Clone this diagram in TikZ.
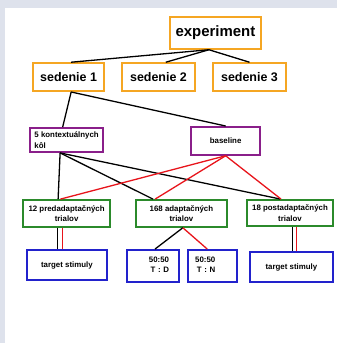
\documentclass[tikz,border=0pt]{standalone}
\usepackage{fontspec}
\setmainfont{Liberation Sans}
\usetikzlibrary{positioning,calc}
\definecolor{expOrange}{HTML}{F5A623}
\definecolor{expPurple}{HTML}{8A1F8A}
\definecolor{expGreen}{HTML}{2B8A2B}
\definecolor{expBlue}{HTML}{2222CC}
\definecolor{expRed}{HTML}{E8141B}
\definecolor{pageGrey}{HTML}{DEE2EC}

\begin{document}
\begin{tikzpicture}[
    line/.style={line width=1.3pt,black},
    line_red/.style={line width=1.3pt,expRed},
    box/.style={rectangle,draw,line width=1.7pt,fill=white,inner sep=0pt},
    box_top/.style={box,draw=expOrange,minimum width=3.21cm,minimum height=1.13cm,
        font=\fontsize{15}{17}\selectfont\bfseries},
    box_sess/.style={box,draw=expOrange,minimum width=2.58cm,minimum height=0.99cm,
        font=\fontsize{12.5}{15}\selectfont\bfseries},
    box_cond/.style={box,draw=expPurple,minimum height=0.85cm,align=left,
        font=\fontsize{7.9}{10.5}\selectfont\bfseries},
    box_trial/.style={box,draw=expGreen,minimum height=0.95cm,align=center,
        font=\fontsize{7.9}{10.5}\selectfont\bfseries},
    box_leaf/.style={box,draw=expBlue,minimum height=1.06cm,
        font=\fontsize{7.9}{10}\selectfont\bfseries},
]

% === PAGE ===
\fill[pageGrey] (0,0) rectangle (11.89,12.10);
\fill[white] (0.17,0) rectangle (11.89,11.80);
\useasboundingbox (0,0) rectangle (11.89,12.10);

% === TOP LEVEL ===
\node[box_top] (experiment) at (7.60,10.94) {experiment};
\node[box_sess,minimum width=2.50cm] (sed1) at (2.42,9.38) {sedenie 1};
\node[box_sess] (sed2) at (5.59,9.38) {sedenie 2};
\node[box_sess] (sed3) at (8.80,9.38) {sedenie 3};

\coordinate (expFoot) at ([xshift=-0.23cm]experiment.south);
\draw[line] (expFoot) -- ([xshift=0.09cm]sed1.north);
\draw[line] (expFoot) -- ([xshift=0.26cm]sed2.north);
\draw[line] (expFoot) -- (sed3.north);

% === CONDITIONS ===
\node[box_cond,minimum width=2.58cm] (kontext) at (2.35,7.16) {5 kontextuálnych\\kôl};
\node[box_cond,minimum width=2.43cm,minimum height=0.99cm,align=center] (baseline) at (7.96,7.13) {baseline};
\draw[line] ([xshift=0.09cm]sed1.south) -- ([xshift=-0.14cm]kontext.north);
\draw[line] ([xshift=0.09cm]sed1.south) -- (baseline.north);

% === TRIAL BLOCKS ===
\node[box_trial,minimum width=3.07cm] (pred) at (2.35,4.57) {12 predadaptačných\\trialov};
\node[box_trial,minimum width=3.21cm] (adapt) at (6.40,4.57) {168 adaptačných\\trialov};
\node[box_trial,minimum width=3.03cm,minimum height=0.92cm] (post) at (10.23,4.59) {18 postadaptačných\\trialov};

% context rounds -> blocks (black)
\coordinate (kontextFoot) at ([xshift=-0.23cm]kontext.south);
\draw[line] (kontextFoot) -- ([xshift=-0.30cm]pred.north);
\draw[line] (kontextFoot) -- ([xshift=-1.00cm]adapt.north);
\draw[line] (kontextFoot) -- ([xshift=-0.35cm]post.north);

% baseline -> blocks (red)
\draw[line_red] (baseline.south) -- ([xshift=-0.22cm]pred.north);
\draw[line_red] (baseline.south) -- ([xshift=-0.93cm]adapt.north);
\draw[line_red] (baseline.south) -- ([xshift=-0.32cm]post.north);

% === STIMULI ===
\node[box_leaf,minimum width=2.82cm] (tgt1) at (2.36,2.75) {target stimuly};
\node[box_leaf,minimum height=1.13cm,align=right,text width=1.13cm,inner xsep=0.35cm] (td) at (5.40,2.72)
    {\begin{tabular}{@{}r@{}}50:50\\T : D\end{tabular}};
\node[box_leaf,minimum height=1.13cm,align=left,text width=1.23cm,inner xsep=0.25cm] (tn) at (7.50,2.72)
    {\begin{tabular}{@{}r@{}}50:50\\T : N\end{tabular}};
\node[box_leaf,minimum width=2.93cm] (tgt2) at (10.28,2.68) {target stimuly};

% double links
\draw[line] ([xshift=-0.31cm]pred.south) -- ([xshift=-0.31cm]pred.south |- tgt1.north);
\draw[line_red] ([xshift=-0.15cm]pred.south) -- ([xshift=-0.15cm]pred.south |- tgt1.north);
\draw[line] ([xshift=0.10cm]post.south) -- ([xshift=0.10cm]post.south |- tgt2.north);
\draw[line_red] ([xshift=0.24cm]post.south) -- ([xshift=0.24cm]post.south |- tgt2.north);

% adaptation split
\draw[line] ([xshift=0.05cm]adapt.south) -- ([xshift=0.07cm]td.north);
\draw[line_red] ([xshift=0.05cm]adapt.south) -- ([xshift=-0.19cm]tn.north);

\end{tikzpicture}
\end{document}
